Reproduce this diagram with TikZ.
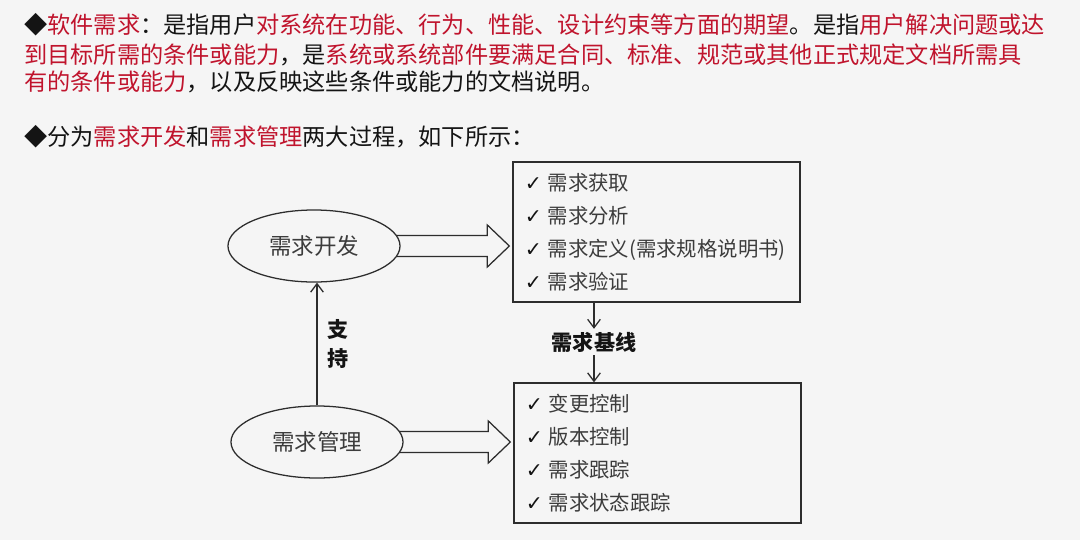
\documentclass[tikz,border=0pt]{standalone}
\usepackage{fontspec}
\usepackage{tikz}
\usetikzlibrary{shapes.geometric, arrows.meta, calc, positioning}
\newfontfamily\cjk{Noto Sans CJK SC}
\newfontfamily\symfont{DejaVu Sans}
\definecolor{pageGray}{RGB}{245, 245, 245}
\definecolor{textRed}{RGB}{192, 20, 45}
\definecolor{textBlack}{RGB}{20, 20, 20}
\definecolor{lineGray}{RGB}{45, 45, 45}
\definecolor{itemGray}{RGB}{60, 60, 60}
\newcommand{\redtxt}[1]{\textcolor{textRed}{#1}}
\newcommand{\chk}{{\symfont\bfseries\color{textBlack}✓}\hspace{4pt}}
\tikzset{
  headline/.style={anchor=base west, inner sep=0pt, text=textBlack, font=\cjk\fontsize{16.5pt}{20pt}\selectfont},
  process/.style={draw=lineGray, ellipse, line width=0.9pt, minimum width=4.3cm, minimum height=1.8cm, inner sep=0pt, text=itemGray, font=\cjk\fontsize{16pt}{19pt}\selectfont},
  itembox/.style={draw=lineGray, line width=0.9pt, text width=6.575cm, inner xsep=0.3cm, inner ysep=0pt, minimum height=3.5cm, align=left, text=itemGray, font=\cjk\fontsize{14.5pt}{23.5pt}\selectfont},
  tagtext/.style={inner sep=2pt, text=textBlack, align=center, font=\cjk\bfseries\fontsize{15pt}{20.5pt}\selectfont},
  link/.style={draw=lineGray, line width=0.9pt, -{Straight Barb[length=6pt,width=9pt]}},
  hollow/.style={draw=lineGray, line width=0.9pt, line join=miter}
}

\begin{document}
\begin{tikzpicture}[x=0.025cm, y=-0.025cm]
        \fill[pageGray] (0,0) rectangle (1080,540);
        \node[headline] (l1) at (24,33) {◆\redtxt{软件需求}：是指用户\redtxt{对系统在功能、行为、性能、设计约束等方面的期望}。是指\redtxt{用户解决问题或达}};
        \node[headline] (l2) at (24,63) {\redtxt{到目标所需的条件或能力}，是\redtxt{系统或系统部件要满足合同、标准、规范或其他正式规定文档所需具}};
        \node[headline] (l3) at (24,90) {\redtxt{有的条件或能力}，以及反映这些条件或能力的文档说明。};
        \node[headline] (l4) at (24,145) {◆分为\redtxt{需求开发}和\redtxt{需求管理}两大过程，如下所示：};

        \node[process] (dev) at (314,246) {需求开发};
        \node[process] (mgmt) at (317,442) {需求管理};
        \node[itembox] (devlist) at (656.5,232) {\chk 需求获取\\ \chk 需求分析\\ \chk 需求定义(需求规格说明书)\\ \chk 需求验证};
        \node[itembox] (mgmtlist) at (657.5,453) {\chk 变更控制\\ \chk 版本控制\\ \chk 需求跟踪\\ \chk 需求状态跟踪};
        \node[tagtext] (base) at (594,342) {需求基线};

        \draw[link] (devlist.south -| base) -- (base.north);
        \draw[link] (base.south) -- (mgmtlist.north -| base);
        \draw[link] (mgmt.north) -- (dev.south -| mgmt.north) node[tagtext, midway, right=5pt] (support) {支\\持};

        \foreach \src/\dst in {dev/devlist, mgmt/mgmtlist}{
          \path (\dst.west |- \src.east) coordinate (tip);
          \draw[hollow] ($(\src.east)+(-4,-10.5)$) -- ($(tip)+(-25,-10.5)$) -- ($(tip)+(-25,-21)$) -- ($(tip)+(-3,0)$)
            -- ($(tip)+(-25,21)$) -- ($(tip)+(-25,10.5)$) -- ($(\src.east)+(-4,10.5)$);
        }
      \end{tikzpicture}
\end{document}
